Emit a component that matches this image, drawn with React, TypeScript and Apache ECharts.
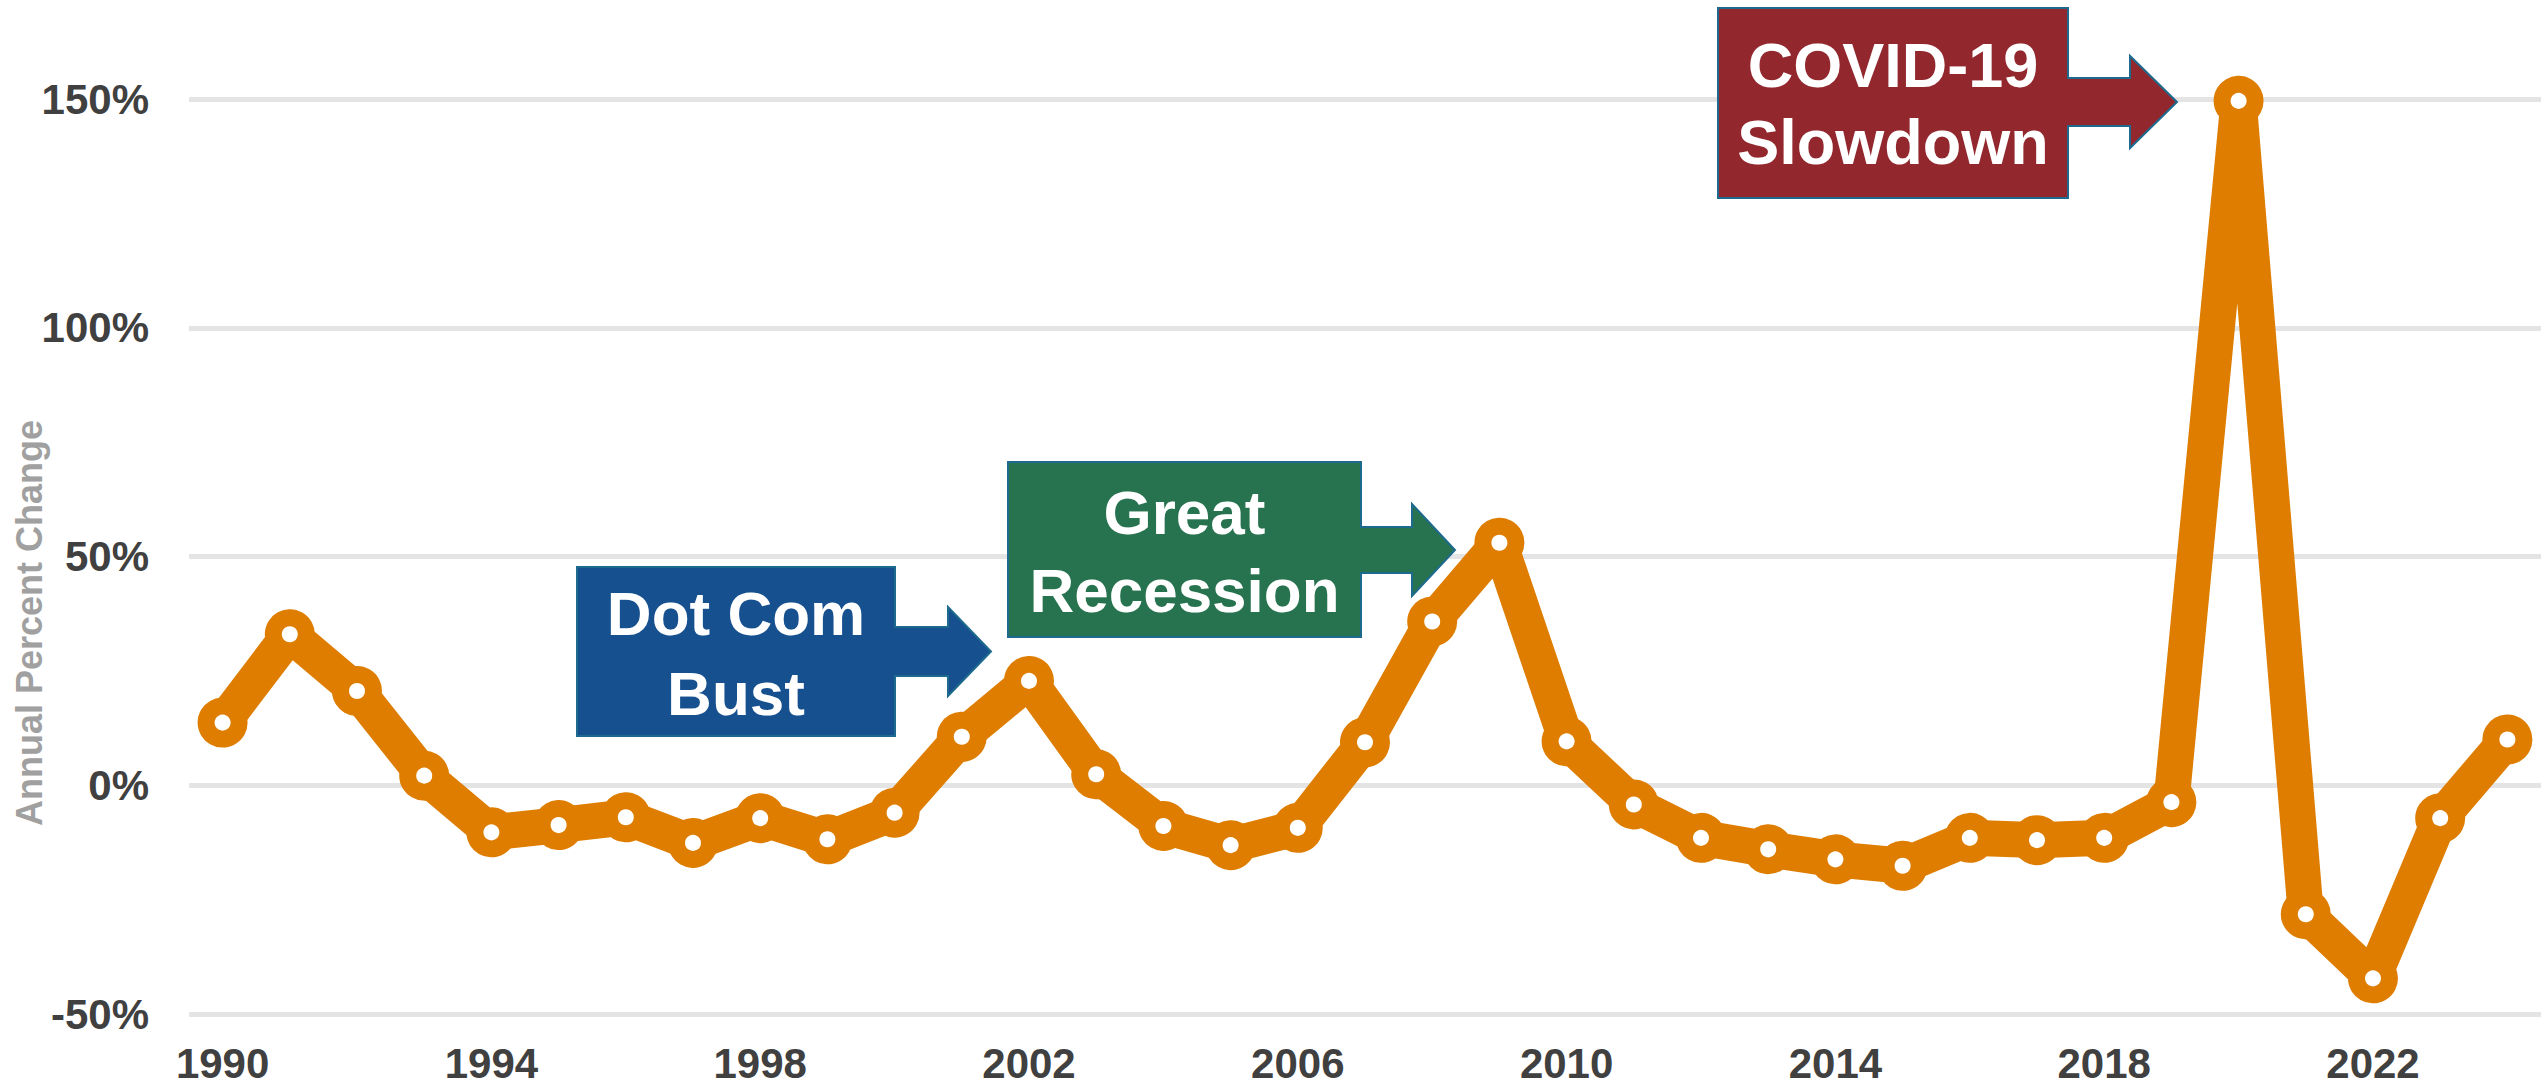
import React, { useEffect, useRef } from "react";
import * as echarts from "echarts";

const years = [
  "1990", "1991", "1992", "1993", "1994", "1995", "1996", "1997", "1998", "1999",
  "2000", "2001", "2002", "2003", "2004", "2005", "2006", "2007", "2008", "2009",
  "2010", "2011", "2012", "2013", "2014", "2015", "2016", "2017", "2018", "2019",
  "2020", "2021", "2022", "2023", "2024",
];

const pctChange = [
  13.7, 33, 20.6, 2.1, -10.3, -8.7, -7, -12.6, -7.2, -11.8,
  -6, 10.6, 22.8, 2.4, -8.9, -13.1, -9.3, 9.4, 35.8, 53,
  9.6, -4.2, -11.5, -14, -16.2, -17.6, -11.5, -12, -11.5, -3.7,
  149.6, -28.2, -42.2, -7.2, 10,
];

const yTicks = { min: -50, max: 150, interval: 50 };
const yAxisTitle = "Annual Percent Change";

const annotations = [
  { lines: ["Dot Com", "Bust"], fill: "#16508E", L: 577, T: 567, R: 895, B: 736, cy: 651.5, shaftHalf: 24.5, headBase: 948, headHalf: 44.5, tip: 991, textY: [613, 693], fontSize: 62 },
  { lines: ["Great", "Recession"], fill: "#27734F", L: 1008, T: 462, R: 1361, B: 637, cy: 550, shaftHalf: 23, headBase: 1412, headHalf: 46, tip: 1455, textY: [512, 590], fontSize: 62 },
  { lines: ["COVID-19", "Slowdown"], fill: "#92282E", L: 1718, T: 8, R: 2068, B: 198, cy: 102, shaftHalf: 24, headBase: 2130, headHalf: 46, tip: 2177, textY: [64.5, 142], fontSize: 63 },
];

const FONT = "'Liberation Sans', Arial, Helvetica, sans-serif";
const ORANGE = "#DE7D00";

export default function App() {
  const ref = useRef<HTMLDivElement>(null);

  useEffect(() => {
    if (!ref.current) return;
    const chart = echarts.init(ref.current, null, { renderer: "svg" });

    const graphics: any[] = [];
    annotations.forEach((a) => {
      graphics.push({
        type: "polygon",
        z: 100,
        shape: {
          points: [
            [a.L, a.T],
            [a.R, a.T],
            [a.R, a.cy - a.shaftHalf],
            [a.headBase, a.cy - a.shaftHalf],
            [a.headBase, a.cy - a.headHalf],
            [a.tip, a.cy],
            [a.headBase, a.cy + a.headHalf],
            [a.headBase, a.cy + a.shaftHalf],
            [a.R, a.cy + a.shaftHalf],
            [a.R, a.B],
            [a.L, a.B],
          ],
        },
        style: { fill: a.fill, stroke: "#1E6A8E", lineWidth: 2 },
      });
      const cx = (a.L + a.R) / 2;
      a.lines.forEach((t, i) => {
        graphics.push({
          type: "text",
          z: 101,
          x: cx,
          y: a.textY[i],
          style: {
            text: t,
            fill: "#FFFFFF",
            fontSize: a.fontSize,
            fontWeight: "bold",
            fontFamily: FONT,
            align: "center",
            verticalAlign: "middle",
          },
        });
      });
    });

    graphics.push({
      type: "text",
      z: 50,
      x: 29,
      y: 623,
      rotation: Math.PI / 2,
      style: {
        text: yAxisTitle,
        fill: "#A0A0A0",
        fontSize: 36,
        fontWeight: "bold",
        fontFamily: FONT,
        align: "center",
        verticalAlign: "middle",
      },
    });

    chart.setOption({
      animation: false,
      backgroundColor: "#FFFFFF",
      grid: { left: 189, right: -1, top: 99, bottom: 73, containLabel: false },
      xAxis: {
        type: "category",
        data: years,
        boundaryGap: true,
        axisLine: { show: false },
        axisTick: { show: false },
        splitLine: { show: false },
        axisLabel: {
          interval: 3,
          margin: 28,
          color: "#404040",
          fontSize: 42,
          fontWeight: "bold",
          fontFamily: FONT,
        },
      },
      yAxis: {
        type: "value",
        min: yTicks.min,
        max: yTicks.max,
        interval: yTicks.interval,
        axisLine: { show: false },
        axisTick: { show: false },
        axisLabel: {
          formatter: "{value}%",
          margin: 40,
          color: "#404040",
          fontSize: 42,
          fontWeight: "bold",
          fontFamily: FONT,
        },
        splitLine: { lineStyle: { color: "#E4E4E4", width: 5 } },
      },
      series: [
        {
          type: "line",
          data: pctChange,
          clip: false,
          lineStyle: { color: ORANGE, width: 36, join: "round", cap: "round" },
          symbol: "circle",
          symbolSize: 33,
          itemStyle: { color: "#FFFFFF", borderColor: ORANGE, borderWidth: 17 },
          z: 5,
        },
      ],
      graphic: graphics,
    });

    return () => chart.dispose();
  }, []);

  return (
    <div
      ref={ref}
      style={{ position: "absolute", left: 0, top: 0, width: 2541, height: 1087 }}
    />
  );
}
